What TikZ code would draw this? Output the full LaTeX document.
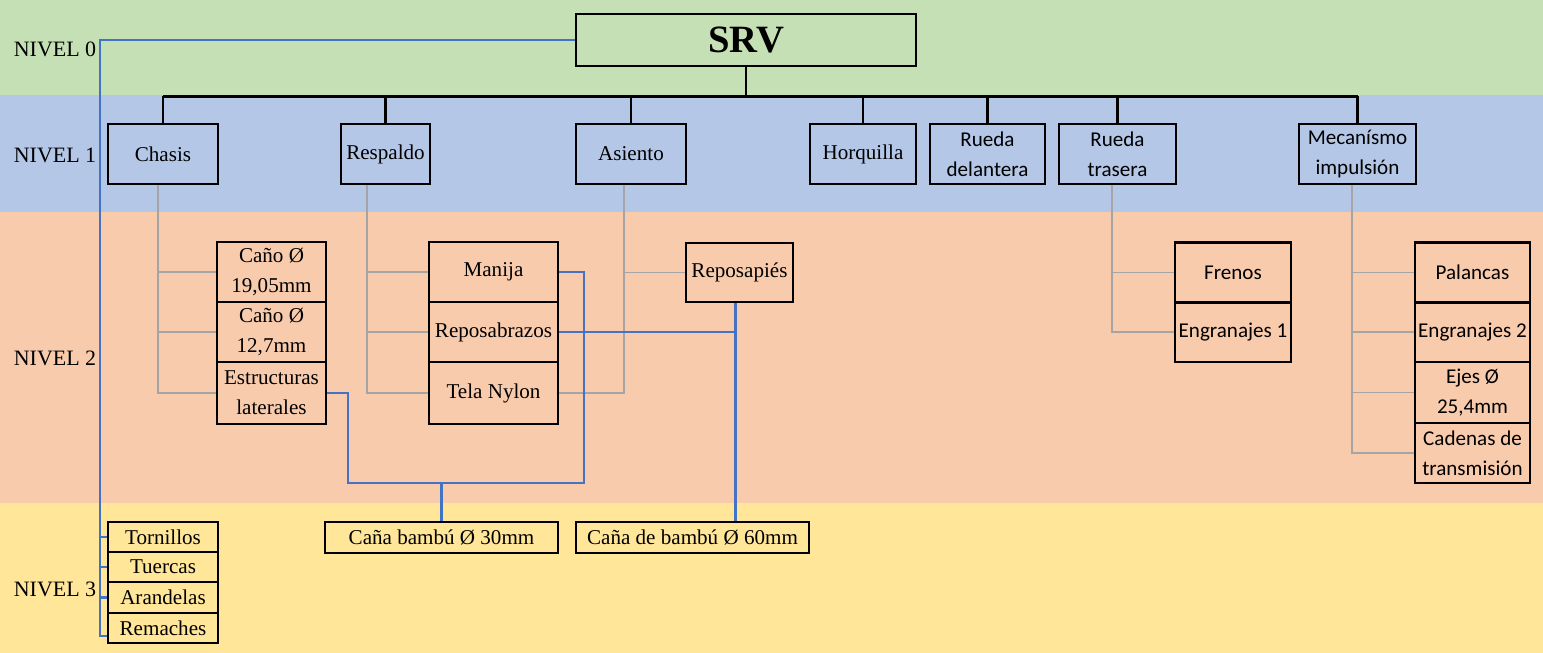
\documentclass[tikz,border=0pt]{standalone}
\usepackage{fontspec}
\setmainfont{Liberation Serif}
\newfontfamily\calibri{Carlito}
\usetikzlibrary{calc}

\definecolor{verde}{HTML}{C5E0B4}
\definecolor{celeste}{HTML}{B4C7E7}
\definecolor{salmon}{HTML}{F8CBAD}
\definecolor{amarillo}{HTML}{FFE699}
\definecolor{azul}{HTML}{4472C4}
\definecolor{gris}{HTML}{A5A5A5}

\tikzset{
  caja/.style 2 args={draw, line width=1.6pt, align=center, inner sep=1pt,
    minimum width=#1*0.02cm, minimum height=#2*0.02cm,
    font=\fontsize{12}{17}\selectfont},
  calibri/.style={font=\fontsize{12}{17}\selectfont\calibri},
  nivel/.style={font=\fontsize{12.5}{15}\selectfont},
  tronco/.style={line width=1.4pt},
  rama/.style={draw=gris, line width=1.1pt},
  enlace/.style={draw=azul, line width=1.2pt}
}

\begin{document}
\begin{tikzpicture}[x=0.02cm, y=-0.02cm]
  \fill[verde] (0,0) rectangle (1543,95);
  \fill[celeste] (0,95) rectangle (1543,212);
  \fill[salmon] (0,212) rectangle (1543,503);
  \fill[amarillo] (0,503) rectangle (1543,653);
  \useasboundingbox (0,0) rectangle (1543,653);

  \node[nivel] (nivel0) at (55,49) {NIVEL 0};
  \node[nivel] (nivel1) at (55,155) {NIVEL 1};
  \node[nivel] (nivel2) at (55,358) {NIVEL 2};
  \node[nivel] (nivel3) at (55,589) {NIVEL 3};

  \node[caja={340}{52}, font=\fontsize{22}{26}\selectfont\bfseries] (srv) at (746,40) {SRV};

  \node[caja={110}{60}] (chasis) at (163,154) {Chasis};
  \node[caja={89}{60}] (respaldo) at (385.5,154) {Respaldo};
  \node[caja={110}{60}] (asiento) at (631,154) {Asiento};
  \node[caja={106}{60}] (horquilla) at (863,154) {Horquilla};
  \node[caja={115}{60}, calibri] (delantera) at (987.5,154) {Rueda\\delantera};
  \node[caja={117}{60}, calibri] (trasera) at (1117.5,154) {Rueda\\trasera};
  \node[caja={117}{60}, calibri] (mecanismo) at (1357.5,154) {Mecanísmo\\impulsión};

  \node[caja={109}{60}] (cano19) at (271.5,272) {Caño Ø\\19,05mm};
  \node[caja={109}{60}] (cano12) at (271.5,332) {Caño Ø\\12,7mm};
  \node[caja={109}{62}] (estructuras) at (271.5,393) {Estructuras\\laterales};
  \node[caja={129}{60}] (manija) at (493.5,272) {Manija};
  \node[caja={129}{60}] (reposabrazos) at (493.5,332) {Reposabrazos};
  \node[caja={129}{62}] (tela) at (493.5,393) {Tela Nylon};
  \node[caja={107}{59}] (reposapies) at (739.5,272.5) {Reposapiés};
  \node[caja={116}{60}, calibri] (frenos) at (1233,272.5) {Frenos};
  \node[caja={116}{60}, calibri] (engranajes1) at (1233,332) {Engranajes 1};
  \node[caja={115}{60}, calibri] (palancas) at (1472.5,272.5) {Palancas};
  \node[caja={115}{60}, calibri] (engranajes2) at (1472.5,332) {Engranajes 2};
  \node[caja={115}{61}, calibri] (ejes) at (1472.5,392.5) {Ejes Ø\\25,4mm};
  \node[caja={115}{60}, calibri] (cadenas) at (1472.5,453) {Cadenas de\\transmisión};

  \node[caja={110}{30}] (tornillos) at (163,537) {Tornillos};
  \node[caja={110}{30}] (tuercas) at (163,567) {Tuercas};
  \node[caja={110}{31}] (arandelas) at (163,597.5) {Arandelas};
  \node[caja={110}{30}] (remaches) at (163,628) {Remaches};
  \node[caja={233}{31}] (bambu30) at (441.5,537.5) {Caña bambú Ø 30mm};
  \node[caja={233}{31}] (bambu60) at (692.5,537.5) {Caña de bambú Ø 60mm};

  % nivel 0 -> nivel 1
  \draw[tronco] (srv.south) -- ++(0,29) coordinate (bus);
  \draw[tronco] (bus -| chasis.north) -- (bus -| mecanismo.north);
  \foreach \n in {chasis,respaldo,asiento,horquilla,delantera,trasera,mecanismo}
    \draw[tronco] (bus -| \n.north) -- (\n.north);

  % nivel 1 -> nivel 2
  \coordinate (bajachasis) at ($(chasis.south)+(-5,0)$);
  \draw[rama] (bajachasis) |- (estructuras.west);
  \foreach \n in {cano19,cano12}
    \draw[rama] (bajachasis |- \n.west) -- (\n.west);
  \coordinate (bajarespaldo) at ($(respaldo.south)+(-18.5,0)$);
  \draw[rama] (bajarespaldo) |- (tela.west);
  \foreach \n in {manija,reposabrazos}
    \draw[rama] (bajarespaldo |- \n.west) -- (\n.west);
  \coordinate (bajaasiento) at ($(asiento.south)+(-7,0)$);
  \draw[rama] (bajaasiento) |- (tela.east);
  \draw[rama] (bajaasiento |- reposapies.west) -- (reposapies.west);
  \coordinate (bajatrasera) at ($(trasera.south)+(-5.5,0)$);
  \draw[rama] (bajatrasera) |- (engranajes1.west);
  \draw[rama] (bajatrasera |- frenos.west) -- (frenos.west);
  \coordinate (bajamecanismo) at ($(mecanismo.south)+(-5.5,0)$);
  \draw[rama] (bajamecanismo) |- (cadenas.west);
  \foreach \n in {palancas,engranajes2,ejes}
    \draw[rama] (bajamecanismo |- \n.west) -- (\n.west);

  % piezas de nivel 3
  \coordinate (pie) at ($(remaches.west)+(-7,8)$);
  \draw[enlace] (srv.west) -| (pie) -- (pie -| remaches.west);
  \foreach \n in {tornillos,tuercas,arandelas}
    \draw[enlace] (pie |- \n.west) -- (\n.west);
  \coordinate (codo) at ($(manija.east)+(25,211)$);
  \draw[enlace] (estructuras.east) -- ++(21,0) |- (codo) |- (manija.east);
  \draw[enlace] (bambu30.north |- codo) -- (bambu30.north);
  \coordinate (cruce) at ($(reposapies.south |- reposabrazos.east)+(-4,0)$);
  \draw[enlace] (reposabrazos.east) -- (cruce);
  \draw[enlace] ($(reposapies.south)+(-4,0)$) -- (cruce |- bambu60.north);
\end{tikzpicture}
\end{document}
